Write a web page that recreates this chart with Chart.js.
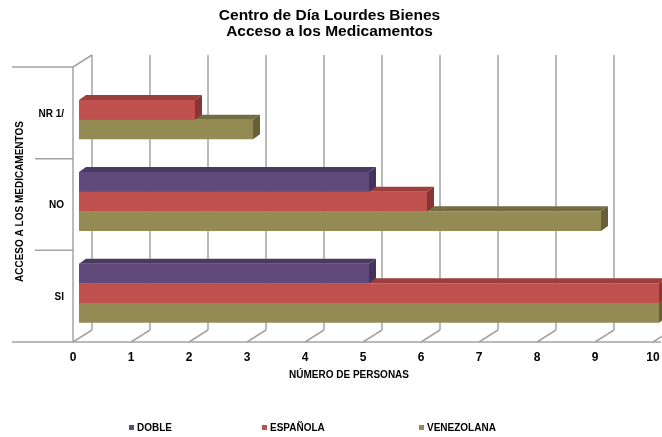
<!DOCTYPE html>
<html>
<head>
<meta charset="utf-8">
<script src="https://cdn.jsdelivr.net/npm/chart.js@4"></script>
<style>
  html, body { margin: 0; padding: 0; background: #fff; }
  #wrap { width: 662px; height: 437px; }
</style>
</head>
<body>
<div id="wrap"><canvas id="chart" width="662" height="437"></canvas></div>
<script>
// Data
const categories = ['NR 1/', 'NO', 'SI'];
const seriesNames = ['DOBLE', 'ESPAÑOLA', 'VENEZOLANA'];
const doble = [null, 5, 5];
const espanola = [2, 6, 10];
const venezolana = [3, 9, 10];
const xMin = 0;
const xMax = 10;

const titleLines = ['Centro de Día Lourdes Bienes', 'Acceso a los Medicamentos'];
const xTitle = 'NÚMERO DE PERSONAS';
const yTitle = 'ACCESO A LOS MEDICAMENTOS';

// Colours (front face, top face, right side face)
const frontColors = ['#604a7b', '#c0504d', '#948a54'];
const topColors = ['#4a3a61', '#9c3f3c', '#746c42'];
const sideColors = ['#42345a', '#883533', '#665f39'];

const FONT = '"Liberation Sans", Arial, sans-serif';

// 3D offsets relative to the bar plane
const DEPTH = { dx: 7, dy: -5 };
const FRONT = { dx: -6, dy: 3 };
const BACK = { dx: 13, dy: -9 };

function line(ctx, x1, y1, x2, y2) {
    ctx.beginPath();
    ctx.moveTo(x1, y1);
    ctx.lineTo(x2, y2);
    ctx.stroke();
}

function poly(ctx, pts, color) {
    ctx.beginPath();
    ctx.moveTo(pts[0][0], pts[0][1]);
    for (let k = 1; k < pts.length; k++) ctx.lineTo(pts[k][0], pts[k][1]);
    ctx.closePath();
    ctx.fillStyle = color;
    ctx.fill();
}

const box3d = {
    id: 'box3d',
    beforeDatasetsDraw(chart) {
        const { ctx } = chart;
        const x = chart.scales.x;
        const y = chart.scales.y;
        const wallDx = BACK.dx - FRONT.dx;
        const wallDy = BACK.dy - FRONT.dy;
        ctx.save();
        ctx.strokeStyle = '#a3a3a3';
        ctx.lineWidth = 1.5;

        // back wall grid lines
        for (let v = xMin; v <= xMax; v++) {
            const px = x.getPixelForValue(v) + BACK.dx;
            line(ctx, px, y.top + BACK.dy, px, y.bottom + BACK.dy);
        }
        // floor diagonals
        for (let v = xMin; v <= xMax; v++) {
            const px = x.getPixelForValue(v) + FRONT.dx;
            line(ctx, px, y.bottom + FRONT.dy, px + wallDx, y.bottom + FRONT.dy + wallDy);
        }
        // side wall (front edge + top diagonal)
        const fx = x.left + FRONT.dx;
        line(ctx, fx, y.top + FRONT.dy, fx, y.bottom + FRONT.dy);
        line(ctx, fx, y.top + FRONT.dy, fx + wallDx, y.top + FRONT.dy + wallDy);
        // floor front edge
        line(ctx, 12, y.bottom + FRONT.dy, x.right + 2, y.bottom + FRONT.dy);
        // category separators
        const band = (y.bottom - y.top) / categories.length;
        for (let k = 0; k < categories.length; k++) {
            const yy = y.top + FRONT.dy + k * band;
            line(ctx, k === 0 ? 12 : 35, yy, fx, yy);
        }
        ctx.restore();
    },
    afterDatasetDraw(chart, args) {
        const { ctx } = chart;
        const i = args.index;
        const values = chart.data.datasets[i].data;
        ctx.save();
        args.meta.data.forEach((bar, j) => {
            if (values[j] == null) return;
            const p = bar.getProps(['x', 'y', 'base', 'height'], true);
            const top = p.y - p.height / 2;
            const bottom = p.y + p.height / 2;
            poly(ctx, [[p.base, top], [p.x, top], [p.x + DEPTH.dx, top + DEPTH.dy], [p.base + DEPTH.dx, top + DEPTH.dy]], topColors[i]);
            poly(ctx, [[p.x, top], [p.x + DEPTH.dx, top + DEPTH.dy], [p.x + DEPTH.dx, bottom + DEPTH.dy], [p.x, bottom]], sideColors[i]);
        });
        ctx.restore();
    },
    afterDraw(chart) {
        const { ctx } = chart;
        ctx.save();
        ctx.fillStyle = '#000';
        ctx.font = 'bold 10px ' + FONT;
        ctx.textBaseline = 'middle';
        // x axis title
        ctx.textAlign = 'center';
        ctx.fillText(xTitle, 349, 375);
        // legend
        const legendX = [129, 262, 419];
        ctx.textAlign = 'left';
        chart.data.datasets.forEach((ds, i) => {
            ctx.fillStyle = ds.backgroundColor;
            ctx.fillRect(legendX[i], 425, 5, 5);
            ctx.fillStyle = '#000';
            ctx.fillText(ds.label, legendX[i] + 8, 428);
        });
        ctx.restore();
    }
};

const datasets = [doble, espanola, venezolana].map((values, i) => ({
    label: seriesNames[i],
    data: values,
    backgroundColor: frontColors[i],
    borderWidth: 0,
    categoryPercentage: 0.644,
    barPercentage: 1
}));

new Chart(document.getElementById('chart'), {
    type: 'bar',
    data: { labels: categories, datasets: datasets },
    plugins: [box3d],
    options: {
        indexAxis: 'y',
        responsive: false,
        devicePixelRatio: 1,
        animation: false,
        layout: { padding: { left: 0, right: 3, top: 0, bottom: 0 } },
        plugins: {
            legend: { display: false },
            tooltip: { enabled: false },
            title: {
                display: true,
                text: titleLines,
                color: '#000',
                font: { family: FONT, size: 15.5, weight: 'bold', lineHeight: '16px' },
                padding: { top: 8, bottom: 24 }
            }
        },
        scales: {
            x: {
                min: xMin,
                max: xMax,
                grid: { display: false, drawTicks: false },
                border: { display: false },
                ticks: {
                    stepSize: 1,
                    color: '#000',
                    font: { family: FONT, size: 12, weight: 'bold' },
                    padding: 11,
                    labelOffset: -6,
                    maxRotation: 0
                },
                afterFit(scale) {
                    scale.height = 98;
                    scale.paddingLeft = 0;
                    scale.paddingRight = 0;
                }
            },
            y: {
                grid: { display: false, drawTicks: false },
                border: { display: false },
                ticks: {
                    color: '#000',
                    font: { family: FONT, size: 10, weight: 'bold' },
                    padding: 15,
                    labelOffset: 4
                },
                title: {
                    display: true,
                    text: yTitle,
                    color: '#000',
                    font: { family: FONT, size: 10, weight: 'bold' },
                    padding: { top: 14, bottom: 0 }
                },
                afterFit(scale) {
                    scale.width = 79;
                }
            }
        }
    }
});
</script>
</body>
</html>
